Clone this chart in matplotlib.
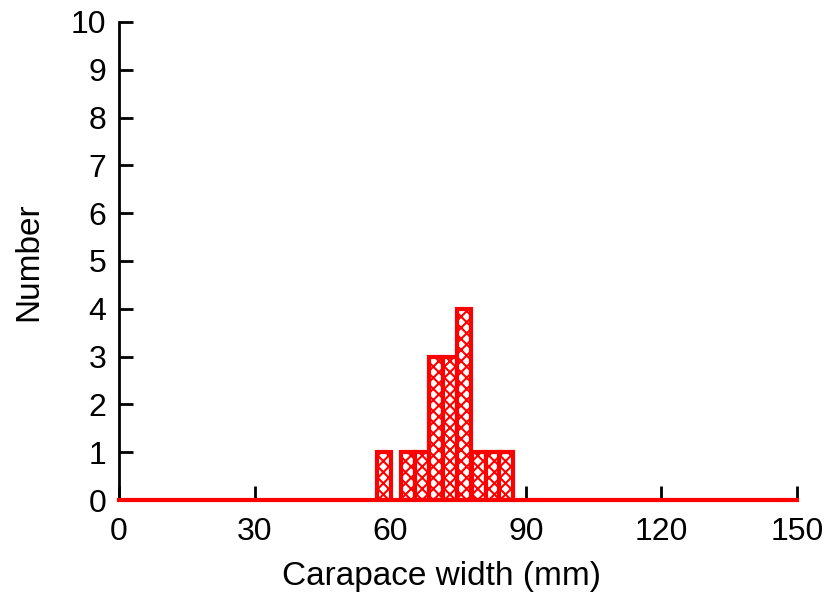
import matplotlib
matplotlib.use("Agg")
import matplotlib.pyplot as plt

plt.rcParams['font.family'] = ['Liberation Sans', 'DejaVu Sans']
plt.rcParams['hatch.color'] = 'red'
plt.rcParams['hatch.linewidth'] = 1.5

bin_centers = [58.6, 64.0, 67.1, 70.2, 73.2, 76.4, 79.7, 82.8, 85.7]
counts = [1, 1, 1, 3, 3, 4, 1, 1, 1]
bin_width = 3.1
xticks = [0, 30, 60, 90, 120, 150]
yticks = list(range(0, 11))

fig = plt.figure(figsize=(8.25, 5.93), dpi=100)
ax = fig.add_axes([0.1442, 0.1568, 0.966 - 0.1442, 0.963 - 0.1568])

ax.bar(bin_centers, counts, width=bin_width, facecolor='white', edgecolor='red',
       linewidth=3, hatch='xxx', zorder=3)
ax.plot([0, 150], [0, 0], color='red', linewidth=3, zorder=4, clip_on=False)

ax.set_xlim(0, 150)
ax.set_ylim(0, 10)
ax.set_xticks(xticks)
ax.set_yticks(yticks)
for s in ['top', 'right']:
    ax.spines[s].set_visible(False)
ax.spines['left'].set_linewidth(2)
ax.spines['bottom'].set_linewidth(2)
ax.tick_params(direction='in', length=10, width=2, labelsize=23)
ax.tick_params(axis='x', pad=12)
ax.tick_params(axis='y', pad=9)
fig.text(0.535, 0.0135, 'Carapace width (mm)', fontsize=24, ha='center', va='baseline')
fig.text(0.016, 0.558, 'Number', fontsize=24, rotation=90, ha='left', va='center')

fig.savefig('out.png', dpi=100)
